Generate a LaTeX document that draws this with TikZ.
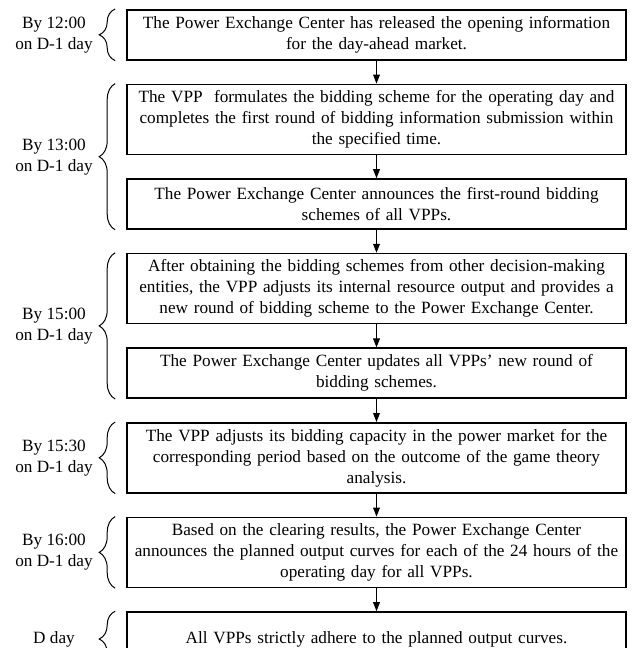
\documentclass[tikz,border=0pt]{standalone}
\usepackage{fontspec}
\setmainfont{Liberation Serif}
\usetikzlibrary{positioning,arrows.meta,calc,decorations.pathreplacing}

\begin{document}
\begin{tikzpicture}[
  node distance=11.5pt,
  st/.style={draw, line width=0.8pt, align=center, font=\fontsize{8.6}{10.5}\selectfont,
             inner sep=0pt, text width=247pt, minimum width=249.5pt, minimum height=25pt},
  tall/.style={st, minimum height=35pt},
  tag/.style={align=center, font=\fontsize{8.6}{10.5}\selectfont},
  brc/.style={decorate, decoration={brace, amplitude=8pt}, line width=0.5pt},
  arr/.style={-{Triangle[length=4.5pt, width=3.4pt]}, line width=0.5pt}
]
\useasboundingbox (0,0) rectangle (316.5pt,-324pt);
\coordinate (lx) at (27pt,0);
\node[st, anchor=north] (open) at (188.25pt,-4.5pt) {The Power Exchange Center has released the opening information\\ for the day-ahead market.};
\node[tall, below=of open] (plan) {The VPP\ \ formulates the bidding scheme for the operating day and\\ completes the first round of bidding information submission within\\ the specified time.};
\node[st, below=of plan] (ann1) {The Power Exchange Center announces the first-round bidding\\ schemes of all VPPs.};
\node[tall, below=of ann1] (adj) {After obtaining the bidding schemes from other decision-making\\ entities, the VPP adjusts its internal resource output and provides a\\ new round of bidding scheme to the Power Exchange Center.};
\node[st, below=of adj] (ann2) {The Power Exchange Center updates all VPPs' new round of\\ bidding schemes.};
\node[tall, below=of ann2] (cap) {The VPP adjusts its bidding capacity in the power market for the\\ corresponding period based on the outcome of the game theory\\ analysis.};
\node[tall, below=of cap] (clr) {Based on the clearing results, the Power Exchange Center\\ announces the planned output curves for each of the 24 hours of the\\ operating day for all VPPs.};
\node[st, below=of clr, minimum height=27pt] (exe) {All VPPs strictly adhere to the planned output curves.};
\foreach \a/\b in {open/plan, plan/ann1, ann1/adj, adj/ann2, ann2/cap, cap/clr, clr/exe}
  \draw[arr] (\a) -- (\b);
% time braces on the left
\foreach \t/\b/\lab in {open/open/{By 12:00\\ on D-1 day}, plan/ann1/{By 13:00\\ on D-1 day},
                        adj/ann2/{By 15:00\\ on D-1 day}, cap/cap/{By 15:30\\ on D-1 day},
                        clr/clr/{By 16:00\\ on D-1 day}, exe/exe/{D day}}
{
  \draw[brc] ([xshift=-5.5pt]\b.south west) -- coordinate[midway] (m\t) ([xshift=-5.5pt]\t.north west);
  \node[tag] (lab\t) at (lx |- m\t) {\lab};
}
\end{tikzpicture}
\end{document}
